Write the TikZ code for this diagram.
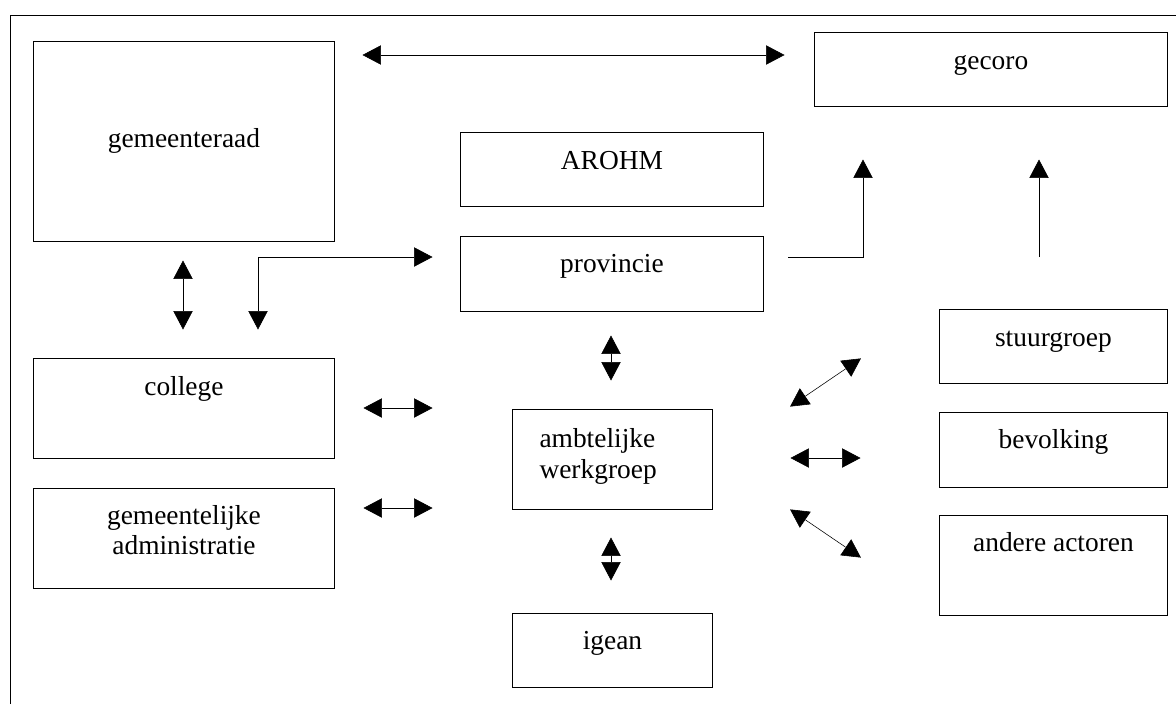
\documentclass[tikz,border=0pt]{standalone}
\usepackage{fontspec}
\setmainfont{Liberation Serif}
\usetikzlibrary{arrows.meta, positioning}

\begin{document}
\begin{tikzpicture}[x=0.025cm, y=-0.025cm]
	\tikzset{<->, >={Triangle[length=0.55cm, width=0.56cm]}, line width=2pt, node distance=0.675cm,
		every node/.style={font=\fontsize{19.5}{21.5}\selectfont},
		box/.style={draw, rectangle, inner sep=0pt, anchor=north west},
		lbl/.style={anchor=base, yshift=-0.95cm, align=center}}

	\useasboundingbox (0,0) rectangle (1176,704);
	\draw[-] (10,704) -- (10,15) -- (1176,15);

	\node[box, minimum width=7.525cm, minimum height=5cm] (raad) at (32,40) {gemeenteraad};
	\node[box, minimum width=8.825cm, minimum height=1.85cm, label={[lbl]90:gecoro}] (gecoro) at (813,31) {};
	\node[box, minimum width=7.575cm, minimum height=1.85cm, label={[lbl]90:AROHM}] (arohm) at (459,131) {};
	\node[box, minimum width=7.575cm, minimum height=1.875cm, below=of arohm, label={[lbl]90:provincie}] (prov) {};
	\node[box, minimum width=7.525cm, minimum height=2.5cm, label={[lbl]90:college}] (college) at (32,357) {};
	\node[box, minimum width=7.525cm, minimum height=2.5cm, below=of college, label={[lbl, yshift=-0.75cm]90:gemeentelijke\\administratie}] (admin) {};
	\node[box, minimum width=5cm, minimum height=2.5cm, label={[lbl, anchor=base west, xshift=-1.975cm, yshift=-0.8cm, align=left]90:ambtelijke\\werkgroep}] (werk) at (511,408) {};
	\node[box, minimum width=5cm, minimum height=1.85cm, below=2.525cm of werk, label={[lbl]90:igean}] (igean) {};
	\node[box, minimum width=5.7cm, minimum height=1.85cm, label={[lbl]90:stuurgroep}] (stuur) at (938,308) {};
	\node[box, minimum width=5.7cm, minimum height=1.875cm, below=0.65cm of stuur, label={[lbl]90:bevolking}] (bevolk) {};
	\node[box, minimum width=5.7cm, minimum height=2.5cm, below=0.625cm of bevolk, label={[lbl]90:andere actoren}] (andere) {};

	% free ends of the arrows
	\coordinate (rg1) at (360,55);   \coordinate (rg2) at (787,55);
	\coordinate (rc1) at (183,258);  \coordinate (rc2) at (183,332);
	\coordinate (pc1) at (258,332);  \coordinate (pc2) at (435,257);
	\coordinate (pg1) at (788,257);  \coordinate (pg2) at (863,157);
	\coordinate (sg1) at (1039,257); \coordinate (sg2) at (1039,157);
	\coordinate (pw1) at (611,333);  \coordinate (pw2) at (611,383);
	\coordinate (wi1) at (611,535);  \coordinate (wi2) at (611,583);
	\coordinate (cw1) at (361,408);  \coordinate (cw2) at (435,408);
	\coordinate (aw1) at (361,508);  \coordinate (aw2) at (435,508);
	\coordinate (ws1) at (788,408);  \coordinate (ws2) at (863,357);
	\coordinate (wb1) at (788,458);  \coordinate (wb2) at (863,458);
	\coordinate (wa1) at (788,508);  \coordinate (wa2) at (863,559);

	\path
		(rg1) edge (rg2)
		(rc1) edge (rc2)
		(pw1) edge (pw2)
		(wi1) edge (wi2)
		(cw1) edge (cw2)
		(aw1) edge (aw2)
		(ws1) edge (ws2)
		(wb1) edge (wb2)
		(wa1) edge (wa2);
	\draw (pc1) |- (pc2);
	\draw[->] (pg1) -| (pg2);
	\draw[->] (sg1) -- (sg2);
\end{tikzpicture}
\end{document}
